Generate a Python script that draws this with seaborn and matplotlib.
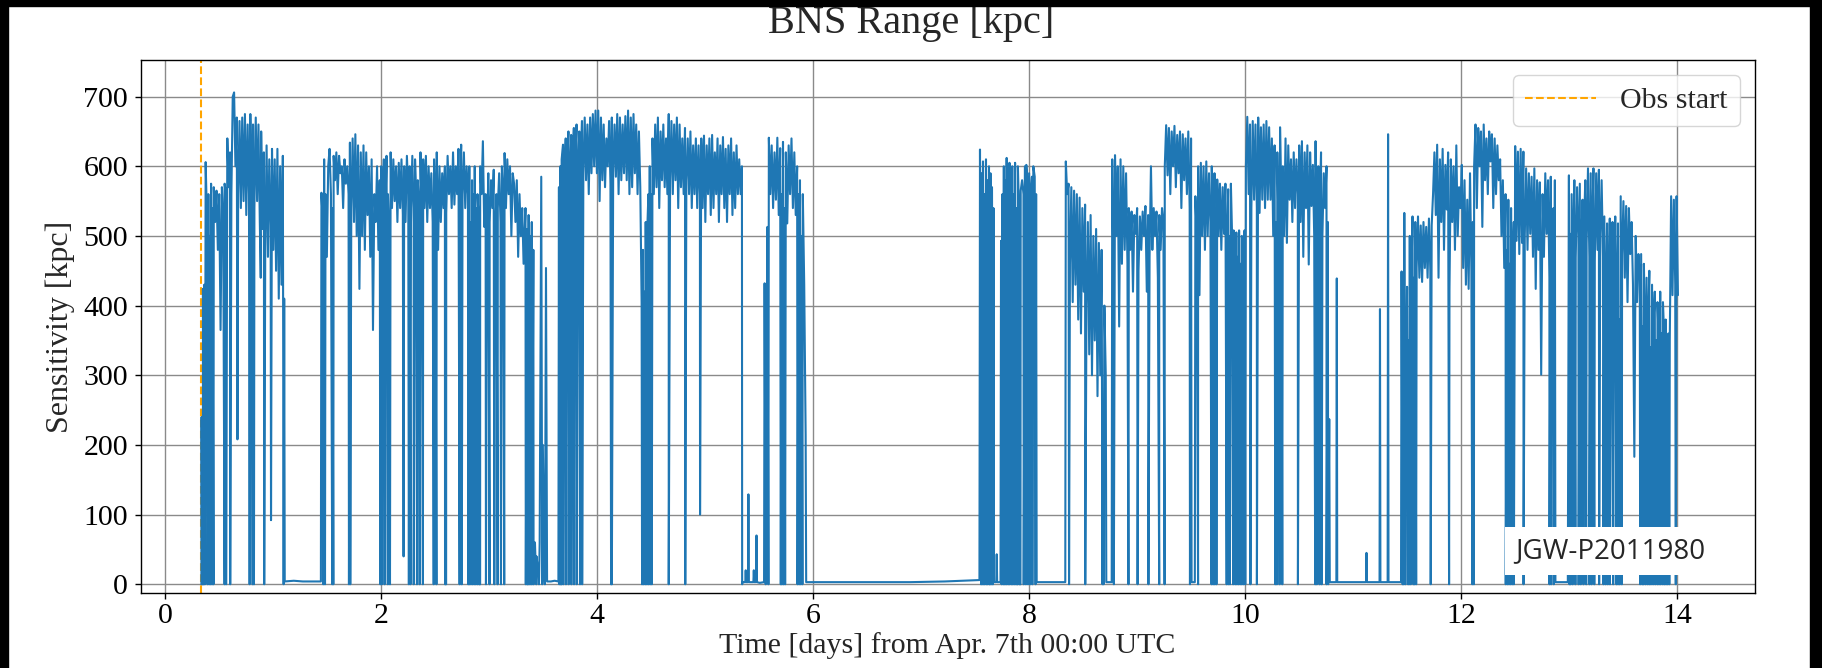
import numpy as np
import pandas as pd
import matplotlib
matplotlib.use("Agg")
import matplotlib.pyplot as plt
from matplotlib.patches import Rectangle
import seaborn as sns

# ---------------- data ----------------
obs_start = 1.0 / 3.0

# each stretch: (start day, end day, readings spread evenly over the stretch)
lock_a = (0.335, 1.100, [
    240, 424, 430, 606, 520, 560, 500, 575, 540, 570,
    520, 565, 480, 560, 365, 570, 520, 575,
    560, 640, 570, 620, 560, 700, 706, 600, 670, 560,
    665, 540, 670, 550, 675, 530, 660, 560, 675, 520, 660, 540, 670, 550,
    660, 520, 650, 510, 620, 480, 630, 470, 610, 515, 625, 480, 610, 450, 625, 410, 600, 430, 615, 410])
down_a = (1.105, 1.440, [4, 5, 4, 4, 4])
lock_b = (1.445, 3.330, [
    562, 520, 610, 560, 470, 600, 625, 560,
    540, 615, 580, 620, 560, 615, 590, 600, 540, 610, 575, 600,
    560, 634, 540, 640, 520, 646, 500, 630, 424, 620, 500, 630,
    480, 620, 530, 600, 470, 610, 365, 560, 520, 600, 480, 580,
    600, 540, 610, 520, 615, 560, 500, 620, 540, 610, 550, 600, 520, 605, 540, 610, 530, 600, 520, 615,
    560, 600, 540, 615, 520, 610, 550, 580,
    540, 620, 505, 610, 540, 615, 520, 600, 540, 590, 520, 610, 560, 620, 480, 600, 520, 590, 540, 600,
    533, 615, 560, 600, 540, 620, 545, 600, 560, 625, 540, 631, 560, 620, 540, 600,
    560, 600, 520, 580, 560, 600, 540, 560, 520, 600, 560, 636,
    513, 560, 480, 590, 520, 580, 540, 595, 500, 560, 540, 590, 520, 600, 560, 619,
    540, 610, 560, 600, 500, 590, 575, 520, 580, 470, 560, 500, 540, 460, 520])
lock_b2 = (3.335, 3.525, [540, 510, 530, 500, 520, 480, 60, 40, 20, 60, 585, 200, 10, 454])
down_b = (3.535, 3.640, [4, 4, 5, 4])
lock_c = (3.645, 5.340, [
    570, 600, 610, 631, 580,
    640, 600, 650, 590, 645, 600, 655, 610, 660, 590, 650, 600, 665, 590, 670, 580, 660, 560, 670, 590,
    675, 600, 680, 590,
    680, 550, 670, 580, 660, 570, 640, 600, 665, 575, 670, 590, 660, 585, 675, 560, 670, 580, 660, 590,
    672, 580, 680, 560, 670, 570, 675, 590, 660, 560, 650, 570,
    404, 480, 420, 520, 500, 560, 600, 560,
    640, 560, 660, 570, 670, 540, 650, 580, 660, 570, 640, 560, 675, 580, 665, 560, 660, 580, 670, 540,
    660, 570, 640, 560, 655, 580, 640, 560, 650, 540, 630, 560, 640, 540, 630, 560,
    640, 540, 644, 520, 630, 560, 640, 530, 645, 540, 620, 560, 640, 520, 630, 560, 642, 540, 625, 520,
    630, 560, 640, 530, 620, 540, 630, 560, 610, 560, 600])
down_c = (5.345, 5.545, [3, 3, 3, 3, 2, 3])
lock_d = (5.550, 5.930, [
    432, 200, 513, 641, 560, 630, 540, 620, 552, 641, 530, 626, 560, 635, 540, 620, 518, 630, 560, 640,
    540, 620, 530, 600, 560, 580, 500, 560, 430, 215])
down_d = (5.935, 7.540, [3, 3, 3, 3, 4, 6])
lock_e = (7.545, 7.670, [624, 590, 607, 560, 610, 580, 600, 590, 570, 540])
down_e = (7.675, 7.735, [3, 3])
lock_f = (7.740, 8.065, [
    493, 560, 600, 580, 612, 570, 605, 590, 600, 560, 605, 540, 600, 520, 565, 580, 560, 600, 602, 570,
    590, 560, 585, 600, 585, 560])
down_f = (8.070, 8.335, [3, 3, 3, 3])
lock_g = (8.340, 8.710, [
    607, 560, 575, 460, 570, 405, 565, 430, 560, 380, 555, 360, 540, 420, 545, 400, 520, 330, 530, 300,
    500, 350, 510, 270, 490, 300, 480, 262, 400, 300])
down_g = (8.715, 8.765, [3, 3])
lock_h = (8.770, 9.500, [
    610, 420, 616, 500, 600, 370, 610, 460, 600, 480, 590, 460,
    540, 480, 535, 420, 530, 503, 540, 450, 528, 480, 535, 500, 543, 420, 530, 470, 600, 480, 540, 500,
    535, 440, 530, 480, 540, 520,
    600, 659, 587, 655, 560, 650, 600, 658, 570, 645, 590, 650, 540, 646, 580, 640, 560, 650, 540, 640])
down_h = (9.505, 9.535, [3, 3])
lock_i = (9.540, 10.780, [
    557, 500, 600, 415, 605, 500, 600, 480, 607, 500, 590, 520, 600, 500, 590, 540,
    581, 500, 575, 480, 570, 503, 575, 474, 567, 500, 575, 490,
    508, 480, 505, 470, 508, 460, 500, 480, 508,
    600, 671, 560, 660, 540, 665, 552, 660, 540, 670, 533, 656, 552, 660, 540, 665, 552, 656,
    552, 640, 500, 630, 520, 620, 489, 656, 540, 600, 500, 640, 490, 630, 552, 610, 520, 620, 540, 610,
    560, 630, 520, 636, 470, 620, 540, 630, 459, 620, 543, 602, 500, 636, 520, 600, 540, 620, 500, 590,
    540, 600, 520, 237])
down_i = (10.785, 11.445, [3, 3, 3, 3, 3, 3, 3])
lock_j = (11.450, 12.870, [
    449, 300, 533, 200, 427, 350, 500, 420, 528, 440,
    520, 454, 528, 440, 515, 434, 520, 454, 513, 440, 525, 450, 515,
    560, 620, 530, 631, 440, 610, 520, 625, 480, 602, 538, 620, 424, 610, 520, 600, 480, 630, 500, 570,
    540,
    602, 454, 580, 430, 552, 424, 590, 450, 520, 600,
    660, 540, 655, 600, 650, 513, 660, 580, 640, 560, 650, 607, 646, 540, 640, 560, 630, 580,
    610, 500, 580, 454, 560, 480, 552, 460, 540, 450, 520,
    629, 493, 621, 474, 625, 490, 621, 500,
    597, 480, 590, 503, 585, 470, 597, 424, 580, 480, 577, 301, 560, 470, 590, 503, 580, 440, 585, 470,
    540, 580])
down_j = (12.875, 12.990, [3, 3, 3])
lock_k = (13.000, 14.010, [
    587, 503, 560, 480, 580, 469, 570, 500, 575, 480, 552, 503, 580, 490,
    597, 470, 590, 503, 597, 464, 590, 480, 595, 503, 580, 470,
    528, 405, 518, 380, 525, 370, 520, 405, 528, 390, 518, 380,
    557, 474, 550, 440, 543, 405, 540, 474, 520, 430, 183, 500, 405, 474, 440,
    474, 370, 460, 350, 440, 360, 450, 340, 430, 370, 420, 350, 405, 340, 420, 360, 405, 350, 380, 340,
    360, 350,
    557, 415, 552, 430, 557, 415])

stretches = [lock_a, down_a, lock_b, lock_b2, down_b, lock_c, down_c, lock_d, down_d, lock_e, down_e,
             lock_f, down_f, lock_g, down_g, lock_h, down_h, lock_i, down_i, lock_j, down_j, lock_k]

# short losses of lock: the range falls to zero for a moment
drop_times = [
    0.333, 0.34, 0.347, 0.354, 0.365, 0.39, 0.405, 0.418, 0.432, 0.445, 0.548, 0.562, 0.60, 0.78, 0.808,
    0.82, 0.915,
    1.095, 1.462, 1.478, 1.545, 1.555, 1.70, 1.712, 1.99,
    2.005, 2.03, 2.06, 2.08, 2.255, 2.27, 2.30, 2.33, 2.355, 2.385, 2.485, 2.51, 2.59, 2.60, 2.725, 2.745,
    2.805, 2.815, 2.83, 2.845, 2.86, 2.875, 2.89, 2.905, 2.915, 2.969,
    3.002, 3.046, 3.077, 3.108, 3.138, 3.338, 3.35, 3.36, 3.37, 3.385, 3.395, 3.41, 3.435, 3.46, 3.49, 3.515,
    3.648, 3.66, 3.67, 3.685, 3.71, 3.735, 3.76, 3.785, 3.81, 3.84, 3.86,
    4.128, 4.135, 4.415, 4.43, 4.445, 4.46, 4.475, 4.49, 4.505, 4.662, 4.815,
    5.342, 5.56, 5.585, 5.70, 5.71, 5.725, 5.74, 5.855, 5.87, 5.885, 5.9,
    7.555, 7.565, 7.58, 7.59, 7.605, 7.615, 7.63, 7.64, 7.655, 7.665, 7.745, 7.76, 7.77, 7.785, 7.795, 7.81,
    7.82, 7.835, 7.845, 7.86, 7.87, 7.885, 7.895, 7.91, 7.92, 7.95, 7.97, 7.99,
    8.01, 8.03, 8.06, 8.37, 8.52, 8.68, 8.69, 8.785, 8.92,
    9.005, 9.105, 9.205, 9.255, 9.49, 9.565, 9.69, 9.705, 9.72, 9.735, 9.83, 9.845, 9.86, 9.89, 9.91, 9.925,
    9.94, 9.955, 9.97, 9.985,
    10.002, 10.05, 10.11, 10.28, 10.295, 10.32, 10.345, 10.49, 10.65, 10.665, 10.69, 10.71, 10.755, 10.77,
    11.46, 11.47, 11.485, 11.51, 11.52, 11.535, 11.56, 11.57, 11.585, 11.72, 11.89,
    12.105, 12.12, 12.415, 12.43, 12.445, 12.46, 12.475, 12.49, 12.58, 12.82, 12.835, 12.86,
    13.005, 13.015, 13.035, 13.06, 13.09, 13.11, 13.135, 13.16, 13.19, 13.21, 13.235, 13.28, 13.32, 13.34,
    13.36, 13.38, 13.41, 13.44, 13.455, 13.47, 13.49, 13.66, 13.68, 13.69, 13.71, 13.73, 13.745, 13.76,
    13.78, 13.8, 13.82, 13.835, 13.85, 13.87, 13.885, 13.9, 13.915, 13.93, 13.99,
]
# partial dips inside locked stretches (time, depth in kpc)
dip_times = [0.667, 0.883, 0.978, 2.206, 4.952]
dip_depths = [208, 440, 92, 40, 100]
# brief relocks while otherwise unlocked (time, height in kpc)
spike_times = [5.375, 5.40, 5.45, 5.475, 7.70, 10.85, 11.125, 11.25, 11.325]
spike_heights = [20, 129, 20, 70, 43, 439, 45, 395, 646]
spike_base = 3

x_ticks = [0, 2, 4, 6, 8, 10, 12, 14]
y_ticks = [0, 100, 200, 300, 400, 500, 600, 700]

times, values = [], []
for t0, t1, vals in stretches:
    times += list(np.linspace(t0, t1, len(vals)))
    values += vals
times += drop_times + dip_times
values += [0] * len(drop_times) + dip_depths
for ts, hs in zip(spike_times, spike_heights):
    times += [ts - 0.004, ts, ts + 0.004]
    values += [spike_base, hs, spike_base]
df = pd.DataFrame({"t": times, "v": values}).sort_values("t", kind="stable").reset_index(drop=True)

# ---------------- styling ----------------
sns.set_style("ticks")
plt.rcParams["font.family"] = ["Liberation Serif", "DejaVu Serif"]
plt.rcParams["axes.edgecolor"] = "black"
plt.rcParams["xtick.color"] = "black"
plt.rcParams["ytick.color"] = "black"

W, H = 1822, 668
fig = plt.figure(figsize=(W / 100, H / 100), dpi=100)
fig.patch.set_facecolor("white")

ax_l, ax_r, ax_t, ax_b = 140.6, 1754.6, 60.4, 592.6
ax = fig.add_axes([ax_l / W, 1 - ax_b / H, (ax_r - ax_l) / W, (ax_b - ax_t) / H])

ax.axvline(obs_start, color="orange", ls="--", lw=1.5, label="Obs start", zorder=2)
sns.lineplot(data=df, x="t", y="v", ax=ax, color="#1f77b4", lw=1.5,
             estimator=None, sort=False, zorder=3)

ax.set_xlim(-0.23, 14.72)
ax.set_ylim(-12, 752)
ax.set_xticks(x_ticks)
ax.set_yticks(y_ticks)
ax.grid(True, color="#8a8a8a", lw=1.0)
ax.set_axisbelow(True)
for s in ax.spines.values():
    s.set_color("black")
    s.set_linewidth(1.0)
ax.tick_params(axis="both", labelsize=21.5, length=4, width=1, direction="out")
ax.tick_params(axis="y", pad=5)

ax.set_xlabel("Time [days] from Apr. 7th 00:00 UTC", fontsize=21.5, labelpad=2)
ax.set_ylabel("Sensitivity [kpc]", fontsize=23, labelpad=6)

leg = ax.legend(loc="upper right", fontsize=21.5, handlelength=2.4, frameon=True,
                fancybox=True, framealpha=0.8, edgecolor="#cccccc")

fig.suptitle("BNS Range [kpc]", fontsize=29, x=0.5, y=1 - 33 / H, va="baseline")

ax.text(13.38, 48, "JGW-P2011980", fontsize=20, family=["Open Sans", "DejaVu Sans"],
        ha="center", va="center", zorder=10,
        bbox=dict(boxstyle="square,pad=0.35", fc="white", ec="none"))

# black border of the scanned picture
fig.patches.append(Rectangle((0, 1 - 6 / H), 1, 6 / H, transform=fig.transFigure,
                             color="black", zorder=20))
fig.patches.append(Rectangle((0, 0), 8 / W, 1, transform=fig.transFigure,
                             color="black", zorder=20))
fig.patches.append(Rectangle((1 - 12 / W, 0), 12 / W, 1, transform=fig.transFigure,
                             color="black", zorder=20))

fig.savefig("out.png", dpi=100)
